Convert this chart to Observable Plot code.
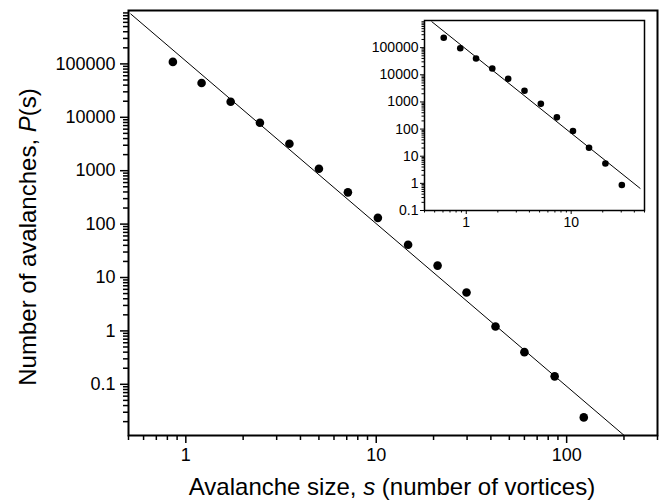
<!DOCTYPE html>
<html>
<head>
<meta charset="utf-8">
<script src="https://cdn.jsdelivr.net/npm/d3@7"></script>
<script src="https://cdn.jsdelivr.net/npm/@observablehq/plot@0.6"></script>
<style>
  body { margin: 0; background: #fff; }
  #wrap { position: relative; width: 661px; height: 502px; background: #fff; }
  #inset { position: absolute; left: 360px; top: 0px; }
</style>
</head>
<body>
<div id="wrap"><div id="main"></div><div id="inset"></div></div>
<script>
// Main panel data
const sizeMain = [0.855, 1.21, 1.72, 2.45, 3.5, 5.0, 7.1, 10.2, 14.7, 21, 29.8, 42.3, 60, 86.5, 123];
const countMain = [109000, 44000, 19500, 7900, 3200, 1090, 393, 131, 41, 16.7, 5.25, 1.21, 0.40, 0.141, 0.024];
const fitMainX = [0.514, 200];
const fitMainY = [860000, 0.0111];

// Inset data
const sizeInset = [0.61, 0.877, 1.24, 1.77, 2.51, 3.59, 5.14, 7.31, 10.4, 14.8, 21.2, 30.4];
const countInset = [230000, 95000, 40000, 17000, 7100, 2570, 850, 270, 85, 20.5, 5.4, 0.87];
const fitInsetX = [0.47, 45.4];
const fitInsetY = [900000, 0.655];

// Tick labels
const xTickValues = [1, 10, 100];
const xTickLabels = ["1", "10", "100"];
const yTickValues = [0.1, 1, 10, 100, 1000, 10000, 100000];
const yTickLabels = ["0.1", "1", "10", "100", "1000", "10000", "100000"];
const insetXTickValues = [1, 10];
const insetXTickLabels = ["1", "10"];

const xTitleParts = ["Avalanche size, ", "s", " (number of vortices)"];
const yTitleParts = ["Number of avalanches, ", "P", "(s)"];

const FONT = "'Liberation Sans', Arial, Helvetica, sans-serif";

function minorTicks(lo, hi) {
  const out = [];
  for (let e = -3; e <= 6; e++) {
    for (let k = 2; k <= 9; k++) {
      const v = +(k * Math.pow(10, e)).toPrecision(6);
      if (v >= lo && v <= hi) out.push(v);
    }
  }
  return out;
}

const mainPts = sizeMain.map((s, i) => ({s, p: countMain[i]}));
const mainFit = fitMainX.map((s, i) => ({s, p: fitMainY[i]}));
const insetPts = sizeInset.map((s, i) => ({s, p: countInset[i]}));
const insetFit = fitInsetX.map((s, i) => ({s, p: fitInsetY[i]}));

const xDom = [0.5, 300], yDom = [0.011, 1e6];

const main = Plot.plot({
  width: 661, height: 502,
  marginLeft: 128, marginTop: 10, marginRight: 4, marginBottom: 67,
  style: {fontFamily: FONT, fontSize: "18px", color: "#000", background: "#fff"},
  x: {type: "log", domain: xDom, label: null},
  y: {type: "log", domain: yDom, label: null},
  marks: [
    Plot.axisX(minorTicks(...xDom), {tickSize: 5, text: null, label: null, strokeWidth: 1.5}),
    Plot.axisX(xTickValues, {tickSize: 8, tickPadding: 5, label: null, strokeWidth: 1.5, fontSize: 18,
      tickFormat: d => xTickLabels[xTickValues.indexOf(d)]}),
    Plot.axisY(minorTicks(...yDom), {tickSize: 5, text: null, label: null, strokeWidth: 1.5}),
    Plot.axisY(yTickValues, {tickSize: 8, tickPadding: 5, label: null, strokeWidth: 1.5, fontSize: 18,
      tickFormat: d => yTickLabels[yTickValues.indexOf(d)]}),
    Plot.line(mainFit, {x: "s", y: "p", stroke: "#000", strokeWidth: 1, clip: true}),
    Plot.dot(mainPts, {x: "s", y: "p", r: 4.3, fill: "#000", stroke: "none"}),
    Plot.frame({stroke: "#000", strokeWidth: 2})
  ]
});
document.getElementById("main").appendChild(main);

const svg = d3.select(main);
const xt = svg.append("text")
  .attr("x", 392).attr("y", 495)
  .attr("text-anchor", "middle")
  .style("font-family", FONT).style("font-size", "24px").attr("fill", "#000");
xTitleParts.forEach((t, i) => xt.append("tspan").text(t).style("font-style", i === 1 ? "italic" : "normal"));

const yt = svg.append("text")
  .attr("transform", "translate(36,237) rotate(-90)")
  .attr("text-anchor", "middle")
  .style("font-family", FONT).style("font-size", "24px").attr("fill", "#000");
yTitleParts.forEach((t, i) => yt.append("tspan").text(t).style("font-style", i === 1 ? "italic" : "normal"));

const ixDom = [0.4, 50], iyDom = [0.1, 1e6];
const inset = Plot.plot({
  width: 295, height: 235,
  marginLeft: 64, marginTop: 20, marginRight: 11, marginBottom: 25,
  style: {fontFamily: FONT, fontSize: "14px", color: "#000", background: "transparent"},
  x: {type: "log", domain: ixDom, label: null},
  y: {type: "log", domain: iyDom, label: null},
  marks: [
    Plot.axisX(minorTicks(...ixDom), {tickSize: 2.5, text: null, label: null, strokeWidth: 1}),
    Plot.axisX(insetXTickValues, {tickSize: 4, tickPadding: 3, label: null, strokeWidth: 1, fontSize: 14,
      tickFormat: d => insetXTickLabels[insetXTickValues.indexOf(d)]}),
    Plot.axisY(minorTicks(...iyDom), {tickSize: 2.5, text: null, label: null, strokeWidth: 1}),
    Plot.axisY(yTickValues, {tickSize: 4, tickPadding: 2, label: null, strokeWidth: 1, fontSize: 14,
      tickFormat: d => yTickLabels[yTickValues.indexOf(d)]}),
    Plot.line(insetFit, {x: "s", y: "p", stroke: "#000", strokeWidth: 1, clip: true}),
    Plot.dot(insetPts, {x: "s", y: "p", r: 3.3, fill: "#000", stroke: "none"}),
    Plot.frame({stroke: "#000", strokeWidth: 1.5})
  ]
});
document.getElementById("inset").appendChild(inset);
</script>
</body>
</html>
